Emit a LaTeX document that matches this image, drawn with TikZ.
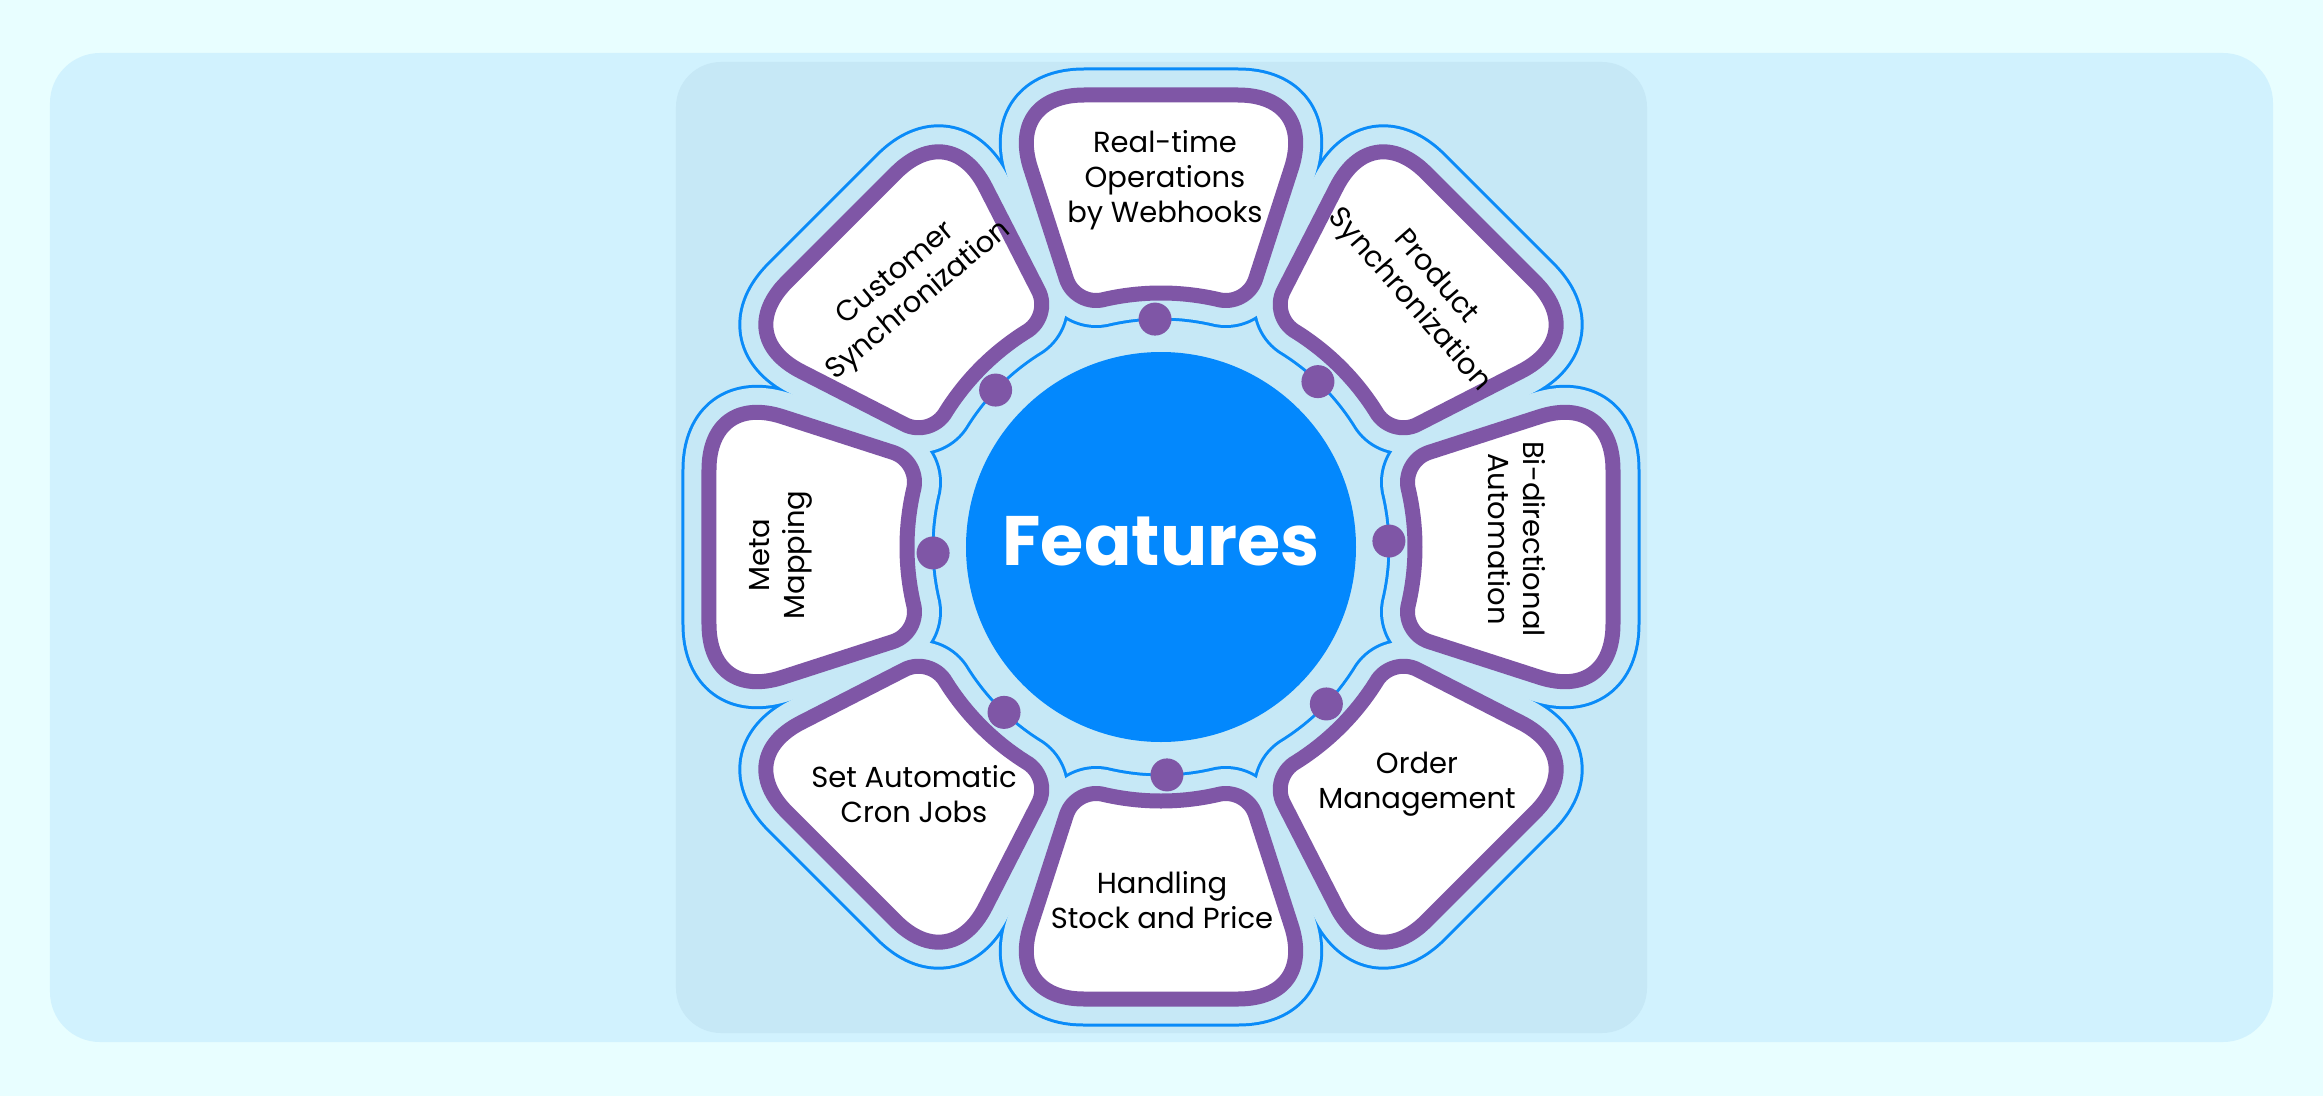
\documentclass[tikz,border=0pt]{standalone}
\usepackage{fontspec}
\setmainfont{Poppins}
\definecolor{pagebg}{HTML}{E8FEFF}
\definecolor{outerbg}{HTML}{D1F2FE}
\definecolor{innerbg}{HTML}{C6E8F6}
\definecolor{petalpurple}{HTML}{7F56A6}
\definecolor{ringblue}{HTML}{0A8BF8}
\definecolor{coreblue}{HTML}{0388FD}
\newcommand{\petalshape}[1]{\draw[#1] (77,452) -- (-77,452) .. controls (-123.2,452) and (-144.54,422.69) .. (-130.36,378.72) -- (-94.61,267.95) .. controls (-89.54,252.25) and (-72.35,243.12) .. (-56.4,247.66) arc[start angle=102.83, end angle=77.17, radius=254] .. controls (72.35,243.12) and (89.54,252.25) .. (94.61,267.95) -- (130.36,378.72) .. controls (144.54,422.69) and (123.2,452) .. (77,452) -- cycle;}
\tikzset{
  label/.style={align=center, text=black, inner sep=0pt, font=\fontsize{29}{35}\selectfont},
}
\begin{document}
\begin{tikzpicture}[x=1pt,y=1pt]
\useasboundingbox (-1161,-549) rectangle (1162,547);
\fill[pagebg] (-1161,-549) rectangle (1162,547);
\fill[outerbg, rounded corners=50] (-1111,-495) rectangle (1112,494);
\fill[innerbg, rounded corners=45] (-485,-486) rectangle (486,485);
% offset outline (blue ring) around the petals
\foreach \a in {0,45,...,315} {
  \begin{scope}[rotate=\a]
    \petalshape{draw=ringblue, line width=55, line join=round}
  \end{scope}
}
\foreach \a in {0,45,...,315} {
  \begin{scope}[rotate=\a]
    \petalshape{draw=innerbg, fill=innerbg, line width=49, line join=round}
  \end{scope}
}
% petals
\foreach \a in {0,45,...,315} {
  \begin{scope}[rotate=\a]
    \petalshape{draw=petalpurple, fill=white, line width=15, line join=round}
  \end{scope}
}
% dots
\foreach \a in {0,45,...,315} {
  \fill[petalpurple] (\a+1.5:228) circle[radius=16.5];
}
% core
\node[circle, fill=coreblue, minimum size=390, inner sep=0pt] (core) at (0,0) {};
\node[text=white, inner sep=0pt, font=\fontsize{70}{82}\selectfont\bfseries] (features) at (0,6) {Features};
% labels
\node[label] (realtime) at (4,367) {Real-time\\Operations\\by Webhooks};
\node[label, rotate=-49] (product) at (261,258) {Product\\Synchronization};
\node[label, rotate=-90] (bidir) at (356,8) {Bi-directional\\Automation};
\node[label] (order) at (256,-237) {Order\\Management};
\node[label] (stock) at (1,-353) {Handling\\Stock and Price};
\node[label] (cron) at (-247,-247) {Set Automatic\\Cron Jobs};
\node[label, rotate=90] (meta) at (-380,-8) {Meta\\Mapping};
\node[label, rotate=40] (customer) at (-253,259) {Customer\\Synchronization};
\end{tikzpicture}
\end{document}
